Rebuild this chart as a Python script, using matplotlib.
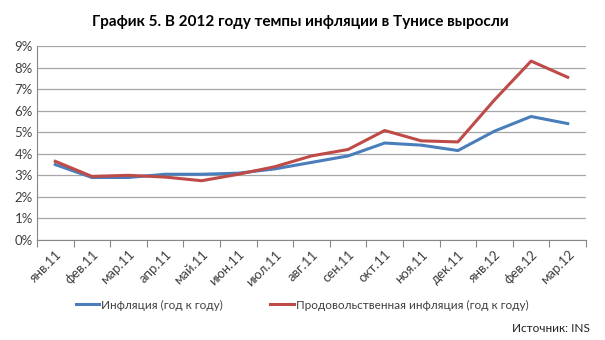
import matplotlib
matplotlib.use("Agg")
import matplotlib.pyplot as plt
from matplotlib.ticker import FuncFormatter, MultipleLocator
import numpy as np

months = ["янв.11", "фев.11", "мар.11", "апр.11", "май.11", "июн.11", "июл.11",
          "авг.11", "сен.11", "окт.11", "ноя.11", "дек.11", "янв.12", "фев.12", "мар.12"]
inflation = [3.5, 2.9, 2.9, 3.05, 3.05, 3.1, 3.3, 3.6, 3.9, 4.5, 4.4, 4.15, 5.05, 5.73, 5.4]
food_inflation = [3.65, 2.95, 3.0, 2.92, 2.75, 3.05, 3.4, 3.9, 4.2, 5.08, 4.6, 4.55, 6.5, 8.3, 7.55]
series_names = ["Инфляция (год к году)", "Продовольственная инфляция (год к году)"]
title = "График 5. В 2012 году темпы инфляции в Тунисе выросли"
source = "Источник: INS"

plt.rcParams['font.family'] = ['Lato', 'DejaVu Sans']

fig = plt.figure(figsize=(6.05, 3.4), dpi=100)
ax = fig.add_axes([37/605, 1 - 240/340, (586-37)/605, (240-46)/340])

x = np.arange(len(months))
ax.plot(x, inflation, color="#4a7ebb", lw=2.2, label=series_names[0], solid_joinstyle="round")
ax.plot(x, food_inflation, color="#be4b48", lw=2.2, label=series_names[1], solid_joinstyle="round")

ax.set_xlim(-0.5, len(months) - 0.5)
ax.set_ylim(0, 9)
ax.yaxis.set_major_locator(MultipleLocator(1))
ax.yaxis.set_major_formatter(FuncFormatter(lambda v, p: f"{int(round(v))}%"))
ax.grid(axis="y", color="#a6a6a6", lw=0.9)
ax.set_axisbelow(True)

ax.set_xticks(np.arange(-0.5, len(months), 1.0))
ax.set_xticklabels([])
ax.set_xticks(x, minor=True)
ax.set_xticklabels(months, minor=True, rotation=45, ha="right", va="top",
                   rotation_mode="anchor", fontsize=9.5, color="#404040")
ax.tick_params(axis="x", which="major", length=5, color="#868686", direction="out")
ax.tick_params(axis="x", which="minor", length=0, pad=6)
ax.tick_params(axis="y", length=0, labelsize=9.5, labelcolor="#404040", pad=3)

for s in ["top", "right"]:
    ax.spines[s].set_visible(False)
ax.spines["left"].set_color("#868686")
ax.spines["bottom"].set_color("#868686")

fig.text(300/605, 1 - 22/340, title, ha="center", va="center", fontsize=11, fontweight="bold")
fig.legend(loc="center", bbox_to_anchor=(302/605, 1 - 305/340), ncol=2, frameon=False,
           fontsize=8.5, handlelength=2.0, handletextpad=0.15, columnspacing=4.0,
           labelcolor="#404040")
fig.text(590/605, 1 - 328/340, source, ha="right", va="center", fontsize=8.5, color="#202020")

fig.savefig("out.png", dpi=100)
